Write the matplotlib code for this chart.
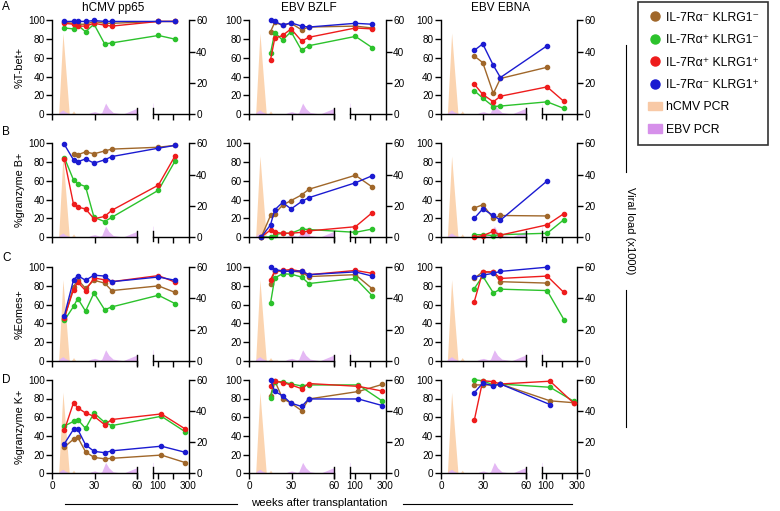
import numpy as np
import matplotlib.pyplot as plt
from matplotlib.lines import Line2D
from matplotlib.patches import Patch

plt.rcParams['font.family'] = ['Liberation Sans', 'DejaVu Sans']

nan = np.nan

# sampling time points (weeks after transplantation)
weeks = [8.5, 15, 18, 23.5, 29.5, 37, 42, 106, 214]
weeks_d = [8.5, 15, 18, 23.5, 29.5, 37, 42, 125, 278]

populations = ['IL-7Rα⁻ KLRG1⁻', 'IL-7Rα⁺ KLRG1⁻', 'IL-7Rα⁺ KLRG1⁺', 'IL-7Rα⁻ KLRG1⁺']
pop_colors = ['#a0672a', '#2cc22c', '#ee1c1c', '#1b1bd1']

row_labels = ['%T-bet+', '%granzyme B+', '%Eomes+', '%granzyme K+']
row_letters = ['A', 'B', 'C', 'D']
antigens = ['hCMV pp65', 'EBV BZLF', 'EBV EBNA']

# viral load (x1000)
hcmv_weeks = [4.5, 7.5, 12, 13.5, 15, 16.5]
hcmv_load = [0, 52, 0, 0, 2, 0]
ebv_weeks = [4, 5.5, 7.5, 9, 12.5, 25, 27.5, 30, 33.7, 35, 37.7, 40, 43, 50, 60]
ebv_load = [0, 1.5, 2.6, 1.5, 0, 0, 1, 1.5, 0.5, 1, 7, 3.5, 1, 0, 3.7]
ebv_weeks_late = [70, 72, 74, 78]
ebv_load_late = [7, 7, 2, 0]

# each panel: brown, green, red, blue series
tbet_pp65 = [[98, 97, 96, 96, 99, 97, 97, 99, 99],
             [92, 91, 95, 88, 96, 75, 76, 84, 80],
             [97, 96, 94, 94, 97, 95, 94, 99, 99],
             [99, 99, 99, 99, 100, 99, 99, 99, 99]]
tbet_bzlf = [[nan, 88, 98, 95, 97, 90, 93, 94, 92],
             [nan, 65, 87, 79, 88, 68, 73, 83, 71],
             [nan, 58, 81, 84, 91, 78, 82, 92, 91],
             [nan, 100, 99, 95, 97.5, 94, 93, 97, 96]]
tbet_ebna = [[nan, nan, nan, 62, 55, 22, 38, 50, nan],
             [nan, nan, nan, 25, 17, 8, 8.5, 13, 6],
             [nan, nan, nan, 32, 21, 13, 19, 29, 13.5],
             [nan, nan, nan, 68, 75, 52, 39, 73, nan]]

gzb_pp65 = [[nan, 89, 88, 91, 89, 92, 94, 96, 98],
            [85, 61, 57, 54, 21, 16.5, 21, 50, 81.5],
            [83, 35, 32, 30, 19.5, 22, 28.5, 55.5, 87],
            [99, 82.5, 80.5, 83.5, 79, 82.5, 86, 95, 98]]
gzb_bzlf = [[0, 23, 25, 34, 39, 45, 51, 66, 53.5],
            [0, 0, 2.5, 4, 4, 8.5, 8, 5, 8.5],
            [0, 7.5, 5, 4, 4, 5, 6.5, 11, 26],
            [0, 13, 29, 37, 30, 38, 42, 58, 65.5]]
gzb_ebna = [[nan, nan, nan, 31, 34.5, 20, 23, 22.5, nan],
            [nan, nan, nan, 2.5, 2.5, 1.5, 2.5, 4, 18.5],
            [nan, nan, nan, 0, 1.5, 6, 2, 13, 25],
            [nan, nan, nan, 20, 30, 23, 18, 60, nan]]

eomes_pp65 = [[45, 79, 86.5, 77.5, 86, 83, 75, 80, 73],
              [43, 58, 66.5, 53, 72.5, 54.5, 57.5, 70, 61],
              [46, 76, 84, 75, 88.5, 86.5, 84.5, 91, 84],
              [48, 86.5, 91, 86, 91.5, 90.5, 84.5, 89.5, 86]]
eomes_bzlf = [[nan, 82, 96, 95.5, 96, 94.5, 90, 92, 77],
              [nan, 61.5, 88.5, 93, 92.5, 89.5, 82.5, 88, 69.5],
              [nan, 86.5, 96, 96.5, 97.5, 95.5, 92, 96.5, 93.5],
              [nan, 100, 97.5, 96, 95.5, 96, 92, 95, 90.5]]
eomes_ebna = [[nan, nan, nan, 88, 95, 94.5, 84.5, 83, nan],
              [nan, nan, nan, 77, 90.5, 72.5, 76.5, 75, 44],
              [nan, nan, nan, 63, 95, 95, 88, 90.5, 73],
              [nan, nan, nan, 89, 91.5, 93.5, 95.5, 100, nan]]

gzk_pp65 = [[28, 36.5, 38.5, 23, 17, 15.5, 16, 19.5, 11.5],
            [50.5, 55.5, 57.5, 48, 64.5, 54.5, 51, 61, 44.5],
            [46, 75.5, 70, 64.5, 61, 52, 57.5, 63.5, 47.5],
            [31.5, 47, 47, 30.5, 23.5, 22, 24, 29, 22.5]]
gzk_bzlf = [[nan, 83, 99, 80, 75, 67, 79.5, 87.5, 95],
            [nan, 80.5, 98, 98, 95.5, 93.5, 94.5, 94.5, 77.5],
            [nan, 93, 98.5, 97, 94.5, 90.5, 96, 93, 88],
            [nan, 100, 87.5, 83, 75, 71.5, 79.5, 79.5, 72.5]]
gzk_ebna = [[nan, nan, nan, 94.5, 94.5, 94.5, 95.5, 77.5, 75.5],
            [nan, nan, nan, 100, 99, 94.5, 95.5, 92, 77],
            [nan, nan, nan, 56.5, 99, 98, 95.5, 98.5, 75],
            [nan, nan, nan, 86, 96.5, 93.5, 95.5, 73.5, nan]]

panels = [[tbet_pp65, tbet_bzlf, tbet_ebna],
          [gzb_pp65, gzb_bzlf, gzb_ebna],
          [eomes_pp65, eomes_bzlf, eomes_ebna],
          [gzk_pp65, gzk_bzlf, gzk_ebna]]

# broken x axis: 0-60 linear, gap, 70-300 compressed
seg_x = [0, 60, 70, 300]
seg_u = [0, 85, 100.7, 136.4]


def forward(x):
    x = np.asarray(x, dtype=float)
    u = np.interp(x, seg_x, seg_u)
    u = np.where(x < 0, x * 85 / 60, u)
    u = np.where(x > 300, 136.4 + (x - 300) * 35.7 / 230, u)
    return u


def inverse(u):
    u = np.asarray(u, dtype=float)
    x = np.interp(u, seg_u, seg_x)
    x = np.where(u < 0, u * 60 / 85, x)
    x = np.where(u > 136.4, 300 + (u - 136.4) * 230 / 35.7, x)
    return x


cmv_fill = '#fbd4b0'
ebv_fill = '#e4b8f4'

fig = plt.figure(figsize=(7.8, 5.11), dpi=100)
W, H = 780, 511
lefts = [52.3, 249.3, 441]
bottoms = [114, 237, 360.7, 473.3]
aw, ah = 136.2, 93.5

for r in range(4):
    t = weeks_d if r == 3 else weeks
    for c in range(3):
        ax = fig.add_axes([lefts[c] / W, 1 - bottoms[r] / H, aw / W, ah / H])
        ax2 = ax.twinx()
        ax.set_xscale('function', functions=(forward, inverse))
        ax.set_xlim(0, 300)
        ax.set_ylim(0, 100)
        ax2.set_ylim(0, 60)

        ax2.fill_between(hcmv_weeks, hcmv_load, color=cmv_fill, lw=0)
        ax2.fill_between(ebv_weeks, ebv_load, color=ebv_fill, lw=0)
        ax2.fill_between(ebv_weeks_late, ebv_load_late, color=ebv_fill, lw=0)

        ax.set_zorder(ax2.get_zorder() + 1)
        ax.patch.set_visible(False)

        for series, col in zip(panels[r][c], pop_colors):
            x = np.array(t)
            y = np.array(series, dtype=float)
            m = ~np.isnan(y)
            ax.plot(x[m], y[m], '-o', color=col, lw=1.0, ms=3.0, clip_on=False)

        for s in ['top', 'right', 'bottom']:
            ax.spines[s].set_visible(False)
        for s in ['top', 'left', 'bottom']:
            ax2.spines[s].set_visible(False)
        ax.spines['left'].set_linewidth(1)
        ax2.spines['right'].set_linewidth(1)

        # broken x axis line with break marks
        xt = ax.get_xaxis_transform()
        ax.plot([0, 60], [0, 0], transform=xt, color='k', lw=1, clip_on=False)
        ax.plot([70, 300], [0, 0], transform=xt, color='k', lw=1, clip_on=False)
        for b in [60, 70]:
            ax.plot([b, b], [-0.045, 0.065], transform=xt, color='k', lw=1, clip_on=False)

        ax.set_yticks([0, 20, 40, 60, 80, 100])
        ax2.set_yticks([0, 20, 40, 60])
        ax.set_xticks([0, 30, 60, 100, 200, 300])
        ax.set_xticklabels(['0', '30', '60', '100', '', '300'])
        ax.tick_params(axis='both', labelsize=7.2, length=4, width=1, pad=1.5)
        ax2.tick_params(axis='y', labelsize=7.2, length=4, width=1, pad=1.5)
        if r < 3:
            ax.tick_params(axis='x', labelbottom=False)
        if c == 0:
            ax.set_ylabel(row_labels[r], fontsize=7.8, labelpad=2)

letter_y = [7, 131.7, 258, 380]
for r in range(4):
    fig.text(2 / W, 1 - letter_y[r] / H, row_letters[r], fontsize=8.5, va='center')

title_x = [113, 308.6, 501]
for c in range(3):
    fig.text(title_x[c] / W, 1 - 8 / H, antigens[c], fontsize=8.5, ha='center', va='center')

# legend
handles = [Line2D([], [], ls='none', marker='o', ms=6.5, color=col) for col in pop_colors]
handles += [Patch(color='#f8c9a6'), Patch(color='#d690ea')]
labels = populations + ['hCMV PCR', 'EBV PCR']
leg = fig.legend(handles, labels, loc='upper left', bbox_to_anchor=(638 / W, 1 - 2 / H),
                 frameon=True, fancybox=False, edgecolor='black', fontsize=8.8,
                 handlelength=1.2, handletextpad=0.25, labelspacing=0.85,
                 borderpad=0.8, borderaxespad=0)
leg.get_frame().set_linewidth(1.2)

# viral load label on the right
fig.add_artist(Line2D([626 / W, 626 / W], [1 - 45 / H, 1 - 172 / H], color='k', lw=0.8))
fig.add_artist(Line2D([626 / W, 626 / W], [1 - 290 / H, 1 - 427 / H], color='k', lw=0.8))
fig.text(630 / W, 1 - 231 / H, 'Viral load (x1000)', rotation=270, fontsize=8,
         ha='center', va='center')

# x axis title at the bottom
fig.add_artist(Line2D([65 / W, 237 / W], [1 - 504 / H, 1 - 504 / H], color='k', lw=0.8))
fig.add_artist(Line2D([403 / W, 572 / W], [1 - 504 / H, 1 - 504 / H], color='k', lw=0.8))
fig.text(319 / W, 1 - 503 / H, 'weeks after transplantation', fontsize=8.2,
         ha='center', va='center')

fig.savefig('out.png', dpi=100)
